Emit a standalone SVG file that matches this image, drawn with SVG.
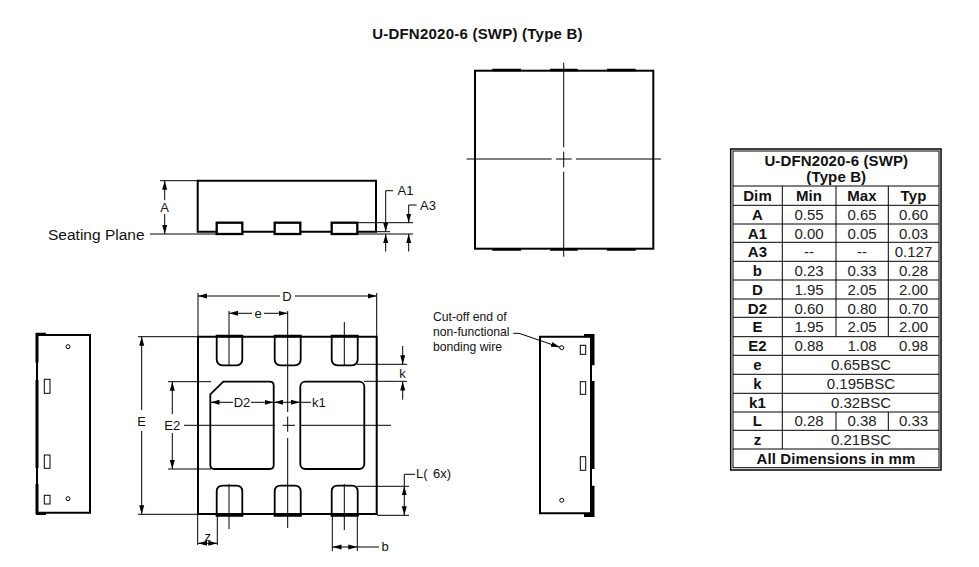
<svg xmlns="http://www.w3.org/2000/svg" width="979" height="567" viewBox="0 0 979 567">
<style>
text{font-family:"Liberation Sans",Arial,sans-serif;fill:#111}
.o{fill:none;stroke:#000;stroke-width:2}
.p{fill:none;stroke:#000;stroke-width:1.8;stroke-linejoin:round}
.w{fill:#fff;stroke:#000;stroke-width:2.3}
.t{fill:none;stroke:#000;stroke-width:1}
.th{fill:none;stroke:#000;stroke-width:3}
.d{fill:none;stroke:#000;stroke-width:1;marker-end:url(#a)}
.l{font-size:13px}
.n{font-size:12.2px}
.title{font-size:15px;font-weight:700;letter-spacing:.23px}
.c{text-anchor:middle}
.h{font-size:15px;font-weight:700;text-anchor:middle;letter-spacing:.12px}
.v{font-size:15px;text-anchor:middle;fill:#222}
.g{fill:none;stroke:#000;stroke-width:1}
</style>
<defs>
<marker id="a" markerUnits="userSpaceOnUse" markerWidth="10" markerHeight="7" refX="9" refY="3" orient="auto"><path d="M0 0.5L9 3L0 5.5Z" fill="#000"/></marker>
</defs>
<rect width="979" height="567" fill="#fff"/>
<text class="title c" x="477.5" y="38.5">U-DFN2020-6 (SWP) (Type B)</text>

<g id="top-view">
<rect class="o" x="475" y="70.7" width="178.3" height="178"/>
<path class="o" stroke-width="2.5" d="M492.3 70H521M550 70H577.7M607 70H635.7M492.3 249.5H521M550 249.5H577.7M607 249.5H635.7" style="stroke-width:2.6"/>
<path class="t" d="M466.7 159H551.7M556 159H571.7M576 159H661M563.7 62.7V147.3M563.7 151.7V167.3M563.7 171.7V256.7"/>
</g>

<g id="side-view">
<path class="o" d="M197.7 231.7V180.7H376V231.7Z"/>
<rect class="w" x="216.7" y="222.7" width="25.6" height="11.3"/>
<rect class="w" x="274.7" y="222.7" width="25.6" height="11.3"/>
<rect class="w" x="331.7" y="222.7" width="25.6" height="11.3"/>
<text x="48" y="240" font-size="15.5">Seating Plane</text>
<path class="t" d="M150 234H216M358 234H413M160 180.7H198M357 222.7H413M376 231.7H390"/>
<path class="d" d="M164.7 200V180.7"/>
<path class="d" d="M164.7 214V234"/>
<text class="l c" x="164.5" y="212">A</text>
<path class="t" d="M393 190.7H385.7V215"/>
<path class="d" d="M385.7 215V231.7"/>
<path class="d" d="M385.7 251.5V234"/>
<text class="l" x="397.5" y="194.5">A1</text>
<path class="t" d="M416.7 205H408.7V212"/>
<path class="d" d="M408.7 212V222.7"/>
<path class="d" d="M408.7 251.5V234"/>
<text class="l" x="420" y="210">A3</text>
</g>

<g id="bottom-view">
<path class="o" d="M198 336.7H376.7V514H198Z"/>
<path class="p" d="M216.7 336.7V359.3Q216.7 365.3 222.7 365.3H236.3Q242.3 365.3 242.3 359.3V336.7"/>
<path class="p" d="M274.7 336.7V359.3Q274.7 365.3 280.7 365.3H294.7Q300.7 365.3 300.7 359.3V336.7"/>
<path class="p" d="M331.7 336.7V359.3Q331.7 365.3 337.7 365.3H351.7Q357.7 365.3 357.7 359.3V336.7"/>
<path class="p" d="M216.7 516V491.7Q216.7 485.7 222.7 485.7H236.3Q242.3 485.7 242.3 491.7V516"/>
<path class="p" d="M274.7 516V491.7Q274.7 485.7 280.7 485.7H294.7Q300.7 485.7 300.7 491.7V516"/>
<path class="p" d="M331.7 516V491.7Q331.7 485.7 337.7 485.7H351.7Q357.7 485.7 357.7 491.7V516"/>
<path class="o" style="stroke-width:2.5" d="M215.7 336H243.3M273.7 336H301.7M330.7 336H358.7M215.7 515.5H243.3M273.7 515.5H301.7M330.7 515.5H358.7"/>
<path class="p" d="M223.3 381.7H269.7Q273.7 381.7 273.7 385.7V465Q273.7 469 269.7 469H214.3Q210.3 469 210.3 465V394.3Z"/>
<rect class="p" x="300.3" y="381.7" width="64" height="87.3" rx="5"/>
<path class="t" d="M184 425.3H275M282.7 425.3H295M300 425.3H391M287.7 311V412M287.7 416.7V431.7M287.7 438V528M229 311V366M229 484V529M344.3 322V366M344.3 484V530"/>
<path class="t" d="M198 293V336M376.7 293V336M138 336.7H198M138 514.3H198M168 381.7H211M168 469H211M357 364.3H407M364 381.3H407M357 486.3H409M377 515.3H409M197.7 515V545M217.3 516V545M332.3 516V551M357.3 516V551"/>
<path class="d" d="M280 296H198"/>
<path class="d" d="M295 296H376.7"/>
<text class="l c" x="287" y="300.7">D</text>
<path class="d" d="M252 313.3H229"/>
<path class="d" d="M264 313.3H287.7"/>
<text class="l c" x="258" y="317.5">e</text>
<path class="d" d="M141.7 410V336.7"/>
<path class="d" d="M141.7 431V514.3"/>
<text class="l c" x="141.5" y="426">E</text>
<path class="d" d="M172.3 414V381.7"/>
<path class="d" d="M172.3 433V469"/>
<text class="l c" x="172.3" y="430">E2</text>
<path class="d" d="M233 402.3H210.5"/>
<path class="d" d="M251 402.3H273.5"/>
<text class="l c" x="242" y="406.5">D2</text>
<path class="d" d="M285 402.3H274"/>
<path class="d" d="M285 402.3H300"/>
<path class="t" d="M300 402.3H311"/>
<text class="l" x="312" y="406.7">k1</text>
<path class="d" d="M402.7 346V364.3"/>
<path class="d" d="M402.7 399.7V381.5"/>
<text class="l c" x="402.5" y="378">k</text>
<path class="t" d="M415 474.3H404.3V495"/>
<path class="d" d="M404.3 500V486.3"/>
<path class="d" d="M404.3 500V515.3"/>
<text class="l" x="416" y="478.3">L(</text>
<text class="l" x="433" y="478.3">6x)</text>
<path class="d" d="M345 547H332.5"/>
<path class="d" d="M345 547H357.3"/>
<path class="t" d="M357.3 547H379"/>
<text class="l" x="381.5" y="550.5">b</text>
<path class="d" d="M207.7 543.3H198"/>
<path class="d" d="M207.7 543.3H217.3"/>
<text class="l c" x="207.7" y="541">z</text>
</g>

<g id="left-view">
<path class="o" d="M37 335H90V512.7H37Z"/>
<path class="th" d="M37 333V362.7M37 380V468M37 484V514.3M36 334.3H46M36 513.5H46"/>
<rect class="t" x="44.3" y="379.3" width="5.7" height="14"/>
<rect class="t" x="44.3" y="455" width="5.7" height="13.3"/>
<rect class="t" x="44.3" y="495.3" width="5.7" height="8.7"/>
<circle class="t" cx="68" cy="346.7" r="2"/>
<circle class="t" cx="68" cy="498.7" r="2"/>
</g>

<g id="right-view">
<path class="o" d="M591 336.7H540V513.3H591Z"/>
<path class="th" d="M593 334.3V365.3M593 381V469M593 485.7V516.7M584 335.5H594.5M584 515.5H594.5"/>
<path class="t" d="M591 336V514"/>
<rect class="t" x="580.3" y="345.3" width="5.4" height="9"/>
<rect class="t" x="580.3" y="381.7" width="5.4" height="12.6"/>
<rect class="t" x="580.3" y="456.7" width="5.4" height="13.6"/>
<circle class="t" cx="561.7" cy="347.7" r="2"/>
<circle class="t" cx="561.7" cy="500.3" r="2"/>
</g>

<g id="wire-note">
<text class="n" x="433" y="320.5">Cut-off end of</text>
<text class="n" x="433" y="335.5">non-functional</text>
<text class="n" x="433" y="350.5">bonding wire</text>
<path class="t" d="M513.3 333.3H519"/>
<path class="d" d="M519 333.3L560 347.3"/>
</g>

<g id="table">
<rect class="t" x="730.7" y="149" width="210.3" height="321" style="stroke-width:1.5"/>
<rect class="t" x="733" y="151" width="206" height="316.7"/>
<path class="g" d="M733 186H939M733 205.3H939M733 224H939M733 242.3H939M733 261.3H939M733 280H939M733 299H939M733 317.3H939M733 336.7H939M733 355.3H939M733 374.3H939M733 393.3H939M733 412H939M733 430.3H939M733 449H939M782.3 186V449M836 186V336.7M888.3 186V336.7M836 412V430.3M888.3 412V430.3"/>
<text class="h" x="836.3" y="165.5">U-DFN2020-6 (SWP)</text>
<text class="h" x="836.3" y="182">(Type B)</text>
<text class="h" x="757.5" y="201">Dim</text><text class="h" x="809" y="201">Min</text><text class="h" x="862" y="201">Max</text><text class="h" x="913.5" y="201">Typ</text>
<text class="h" x="757.5" y="220">A</text><text class="v" x="809" y="220">0.55</text><text class="v" x="862" y="220">0.65</text><text class="v" x="913.5" y="220">0.60</text>
<text class="h" x="757.5" y="238.5">A1</text><text class="v" x="809" y="238.5">0.00</text><text class="v" x="862" y="238.5">0.05</text><text class="v" x="913.5" y="238.5">0.03</text>
<text class="h" x="757.5" y="257">A3</text><text class="v" x="809" y="257">--</text><text class="v" x="862" y="257">--</text><text class="v" x="913.5" y="257">0.127</text>
<text class="h" x="757.5" y="276">b</text><text class="v" x="809" y="276">0.23</text><text class="v" x="862" y="276">0.33</text><text class="v" x="913.5" y="276">0.28</text>
<text class="h" x="757.5" y="295">D</text><text class="v" x="809" y="295">1.95</text><text class="v" x="862" y="295">2.05</text><text class="v" x="913.5" y="295">2.00</text>
<text class="h" x="757.5" y="313.5">D2</text><text class="v" x="809" y="313.5">0.60</text><text class="v" x="862" y="313.5">0.80</text><text class="v" x="913.5" y="313.5">0.70</text>
<text class="h" x="757.5" y="332">E</text><text class="v" x="809" y="332">1.95</text><text class="v" x="862" y="332">2.05</text><text class="v" x="913.5" y="332">2.00</text>
<text class="h" x="757.5" y="351">E2</text><text class="v" x="809" y="351">0.88</text><text class="v" x="862" y="351">1.08</text><text class="v" x="913.5" y="351">0.98</text>
<text class="h" x="757.5" y="370">e</text><text class="v" x="861" y="370">0.65BSC</text>
<text class="h" x="757.5" y="389">k</text><text class="v" x="861" y="389">0.195BSC</text>
<text class="h" x="757.5" y="408">k1</text><text class="v" x="861" y="408">0.32BSC</text>
<text class="h" x="757.5" y="426">L</text><text class="v" x="809" y="426">0.28</text><text class="v" x="862" y="426">0.38</text><text class="v" x="913.5" y="426">0.33</text>
<text class="h" x="757.5" y="445">z</text><text class="v" x="861" y="445">0.21BSC</text>
<text class="h" x="836" y="464">All Dimensions in mm</text>
</g>
</svg>
